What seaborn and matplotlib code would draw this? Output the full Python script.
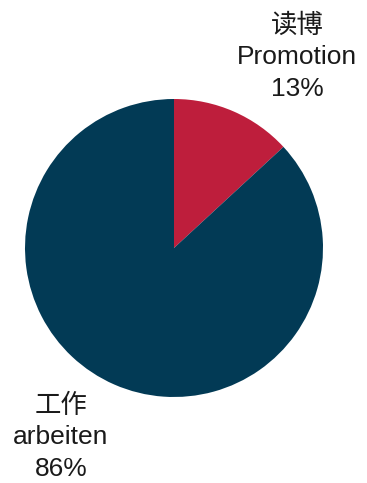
import matplotlib
matplotlib.use("Agg")
import matplotlib.pyplot as plt
import seaborn as sns

# Career choice after graduation
categories_cn = ["读博", "工作"]
categories_de = ["Promotion", "arbeiten"]
shares = [13, 86]
colors = ["#BE1E3C", "#023A55"]

sns.set_theme(style="white")
plt.rcParams["font.family"] = ["Liberation Sans", "Noto Sans CJK SC", "DejaVu Sans"]

W, H = 367, 483
fig = plt.figure(figsize=(W / 100, H / 100), dpi=100)
cx, cy, r = 174, 248, 149
ax = fig.add_axes([(cx - r) / W, (H - cy - r) / H, 2 * r / W, 2 * r / H])

ax.pie(shares, colors=colors, startangle=90, counterclock=False,
       wedgeprops=dict(linewidth=0), radius=1)
ax.set_xlim(-1, 1)
ax.set_ylim(-1, 1)
ax.set_aspect("equal")
ax.axis("off")

label_pos = [(0.826, 1.28), (-0.758, -1.27)]
for cn, de, v, (x, y) in zip(categories_cn, categories_de, shares, label_pos):
    ax.text(x, y, f"{cn}\n{de}\n{v}%", ha="center", va="center",
            fontsize=19, color="#1a1a1a", linespacing=1.4, clip_on=False)

fig.savefig("out.png", dpi=100)
